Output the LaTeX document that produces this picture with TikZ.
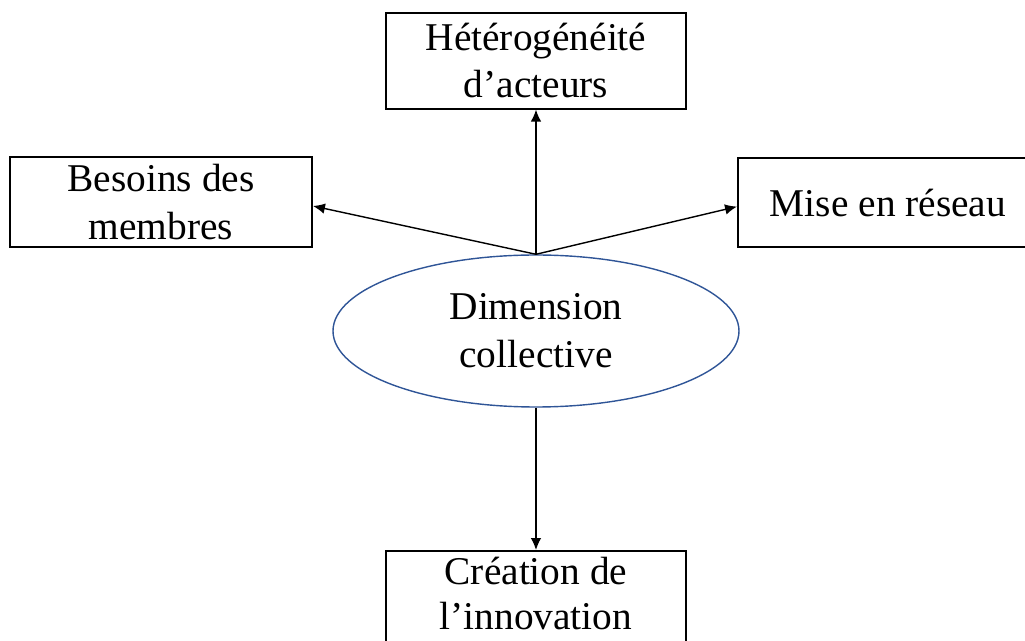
\documentclass[tikz,border=0pt]{standalone}
\usepackage{fontspec}
\setmainfont{Liberation Serif}
\usetikzlibrary{shapes.geometric,arrows.meta}
\definecolor{hubblue}{RGB}{47,85,151}
\tikzset{
  box/.style={draw,line width=1.4pt,minimum width=7.5cm,minimum height=2.4cm,align=center,font=\fontsize{28}{34}\selectfont},
  hub/.style={draw=hubblue,ellipse,line width=1pt,minimum width=10.15cm,minimum height=3.8cm,inner sep=0pt,align=center,font=\fontsize{28}{34}\selectfont},
  link/.style={line width=1pt,-{Latex[length=8.5pt,width=7.5pt]}}
}
\begin{document}
\begin{tikzpicture}
      \clip (-13.4,-7.75) rectangle (12.225,8.275);
      \useasboundingbox (-13.4,-7.75) rectangle (12.225,8.275);
      \node[hub] (dim) at (0,0) {Dimension\\collective};
      \node[box] (het) at (0,6.76) {Hétérogénéité\\d’acteurs};
      \node[box,minimum width=7.55cm,minimum height=2.25cm] (bes) at (-9.375,3.225) {Besoins des\\membres};
      \node[box,minimum height=2.225cm] (mise) at (8.8,3.21) {Mise en réseau};
      \node[box,font=\fontsize{28}{32}\selectfont,text depth=0.3cm] (crea) at (0,-6.7) {Création de\\l’innovation};

      \draw[link] (dim.north) -- (het.south);
      \draw[link] (dim.north) -- ([yshift=-1mm]bes.east);
      \draw[link] (dim.north) -- ([yshift=-1mm]mise.west);
      \draw[link] (dim.south) -- (crea.north);
    \end{tikzpicture}
\end{document}
